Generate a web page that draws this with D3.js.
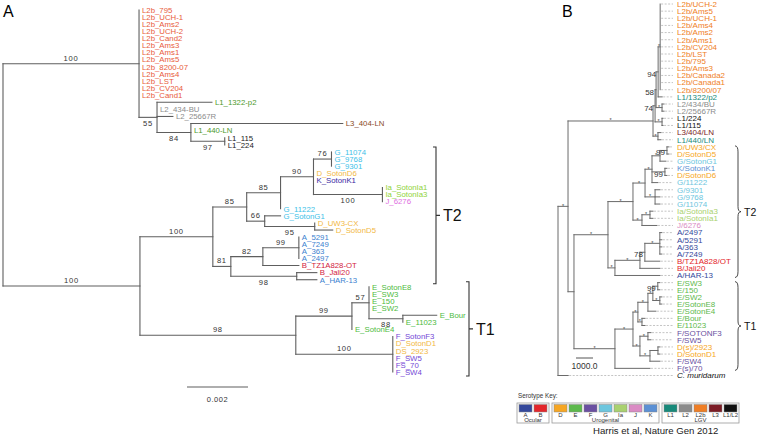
<!DOCTYPE html>
<html><head><meta charset="utf-8">
<script src="https://cdn.jsdelivr.net/npm/d3@7"></script>
<style>
body{margin:0;background:#fff}
svg{display:block}
text{font-family:"Liberation Sans",Arial,Helvetica,sans-serif}
</style>
</head><body>
<svg id="c" width="760" height="446"></svg>
<script>
// ---------------- DATA ----------------
// Panel A: [node, parent, branch length (subst/site), bootstrap support, serotype]
const treeA = [
 ["rA","",0,""],
 ["L2","rA",0.00446,"100"],
 ["L2b_795","L2",0,"","L2b"],["L2b_UCH-1","L2",0,"","L2b"],["L2b_Ams2","L2",0,"","L2b"],
 ["L2b_UCH-2","L2",0,"","L2b"],["L2b_Cand2","L2",0,"","L2b"],["L2b_Ams3","L2",0,"","L2b"],
 ["L2b_Ams1","L2",0,"","L2b"],["L2b_Ams5","L2",0,"","L2b"],["L2b_8200-07","L2",0,"","L2b"],
 ["L2b_Ams4","L2",0,"","L2b"],["L2b_LST","L2",0,"","L2b"],["L2b_CV204","L2",0,"","L2b"],
 ["L2b_Cand1","L2",0,"","L2b"],
 ["N55","L2",0.00059,"55"],
 ["L1_1322-p2","N55",0.0018,"","L1"],
 ["L2_434-BU","N55",0,"","L2"],
 ["L2_25667R","N55",0.00052,"","L2"],
 ["N84","N55",0.00111,"84"],
 ["L3_404-LN","N84",0.00498,"","L3"],
 ["L1_440-LN","N84",0,"","L1"],
 ["N97","N84",0.00111,"97"],
 ["L1_115","N97",0,"","L1L2"],["L1_224","N97",0,"","L1L2"],
 ["B1","rA",0.00449,"100"],
 ["NT2","B1",0.00239,"100"],
 ["N85a","NT2",0.00111,"85"],
 ["N85b","N85a",0.00111,"85"],
 ["N90","N85b",0.00108,"90"],
 ["N76","N90",0.00059,"76"],
 ["G_11074","N76",0,"","G"],["G_9768","N76",0,"","G"],["G_9301","N76",0,"","G"],
 ["D_SotonD6","N90",0,"","D"],["K_SotonK1","N90",0,"","K"],
 ["N100c","N90",0.00226,"100"],
 ["Ia_SotonIa1","N100c",0,"","Ia"],["Ia_SotonIa3","N100c",0,"","Ia"],["J_6276","N100c",0,"","J"],
 ["G_11222","N85b",0,"","G"],
 ["N66","N85a",0.00059,"66"],
 ["G_SotonG1","N66",0.00052,"","G"],
 ["N95","N66",0.00164,"95"],
 ["D_UW3-CX","N95",0,"","D"],["D_SotonD5","N95",0.00059,"","D"],
 ["N81","NT2",0.00059,"81"],
 ["N82","N81",0.00105,"82"],
 ["N99a","N82",0.00118,"99"],
 ["A_5291","N99a",0,"","A"],["A_7249","N99a",0,"","A"],["A_363","N99a",0,"","A"],["A_2497","N99a",0,"","A"],
 ["B_TZ1A828-OT","N82",0.00118,"","B"],
 ["N98b","N81",0.00216,"98"],
 ["B_Jali20","N98b",0.00066,"","B"],["A_HAR-13","N98b",0.00066,"","A"],
 ["T1","B1",0.00511,"98"],
 ["N99","T1",0.00184,"99"],
 ["N57","N99",0.00056,"57"],
 ["E_SotonE8","N57",0,"","E"],["E_SW3","N57",0,"","E"],["E_150","N57",0,"","E"],["E_SW2","N57",0,"","E"],
 ["N88","N57",0.00111,"88"],
 ["E_Bour","N88",0.00111,"","E"],["E_11023","N88",0,"","E"],
 ["E_SotonE4","N99",0,"","E"],
 ["NF","T1",0.00318,"100"],
 ["F_SotonF3","NF",0,"","F"],["D_SotonD1","NF",0,"","D"],["DS_2923","NF",0,"","D"],
 ["F_SW5","NF",0,"","F"],["FS_70","NF",0,"","F"],["F_SW4","NF",0,"","F"]
];
const belowA = ["N55","N84","N97","N100c","N95","N98b","N88"];
const scaleBarA = 0.002;

// Panel B: [node, parent, branch length (subst/site), support, serotype]
const treeB = [
 ["rB","",0,""],
 ["I","rB",0.000059,"*"],
 ["LGV","I",0.0005,"*"],
 ["N74","LGV",0.000012,"74"],
 ["N58","N74",0.000006,"58"],
 ["N94","N58",0.000012,"94"],
 ["L2bB","N94",0.000012,"*"],
 ["L2b/UCH-2","L2bB",0,"","L2b"],["L2b/Ams5","L2bB",0,"","L2b"],["L2b/UCH-1","L2bB",0,"","L2b"],
 ["L2b/Ams4","L2bB",0,"","L2b"],["L2b/Ams2","L2bB",0,"","L2b"],["L2b/Ams1","L2bB",0,"","L2b"],
 ["L2b/CV204","L2bB",0,"","L2b"],["L2b/LST","L2bB",0,"","L2b"],["L2b/795","L2bB",0,"","L2b"],
 ["L2b/Ams3","L2bB",0,"","L2b"],["L2b/Canada2","L2bB",0,"","L2b"],["L2b/Canada1","L2bB",0,"","L2b"],
 ["L2b/8200/07","L2bB",0,"","L2b"],
 ["L1/1322/p2","N94",0.000024,"","L1"],
 ["NL2","N58",0.000035,"*"],
 ["L2/434/BU","NL2",0.000012,"","L2"],["L2/25667R","NL2",0.000012,"","L2"],
 ["NL1","N74",0.000041,"*"],
 ["L1/224","NL1",0.000006,"","L1/L2"],["L1/115","NL1",0.000006,"","L1/L2"],
 ["NL3","LGV",0.000029,"*"],
 ["L3/404/LN","NL3",0.000018,"","L3"],["L1/440/LN","NL3",0.000018,"","L1"],
 ["U","I",0.000035,""],
 ["T2","U",0.0002,"*"],
 ["Nup","T2",0.000147,"*"],
 ["NDGK","Nup",0.000071,"*"],
 ["NDK","NDGK",0.000041,"*"],
 ["Nc","NDK",0.000047,"*"],
 ["N99a","Nc",0.000041,"99"],
 ["D/UW3/CX","N99a",0.000012,"","D"],["D/SotonD5","N99a",0.000012,"","D"],
 ["G/SotonG1","Nc",0.000035,"","G"],
 ["N99b","NDK",0.000076,"99"],
 ["K/SotonK1","N99b",0.000012,"","K"],["D/SotonD6","N99b",0.000012,"","D"],
 ["G/11222","NDK",0.000035,"","G"],
 ["NG","NDGK",0.000059,"*"],
 ["G/9301","NG",0.000029,"","G"],["G/9768","NG",0.000029,"","G"],["G/11074","NG",0.000029,"","G"],
 ["NIaJ","Nup",0.000053,"*"],
 ["NIa","NIaJ",0.000047,"*"],
 ["Ia/SotonIa3","NIa",0.000018,"","Ia"],["Ia/SotonIa1","NIa",0.000018,"","Ia"],
 ["J/6276","NIaJ",0.000088,"","J"],
 ["NAB","T2",0.000041,"*"],
 ["NABi","NAB",0.000147,"*"],
 ["N78","NABi",0.000029,"78"],
 ["NA","N78",0.000088,"*"],
 ["A/2497","NA",0.000012,"","A"],["A/5291","NA",0.000012,"","A"],["A/363","NA",0.000012,"","A"],["A/7249","NA",0.000012,"","A"],
 ["B/TZ1A828/OT","N78",0.000088,"","B"],
 ["B/Jali20","NABi",0.000118,"","B"],
 ["A/HAR-13","NAB",0.000265,"","A"],
 ["T1","U",0.000241,"*"],
 ["NT1a","T1",0.000106,"*"],
 ["NE","NT1a",0.000029,"*"],
 ["NE1","NE",0.000059,"*"],
 ["NE2","NE1",0.000029,"*"],
 ["N99c","NE2",0.000029,"99"],
 ["E/SW3","N99c",0.000012,"","E"],["E/150","N99c",0.000012,"","E"],
 ["NE3","NE2",0.000041,"*"],
 ["E/SW2","NE3",0.000012,"","E"],["E/SotonE8","NE3",0.000012,"","E"],
 ["E/SotonE4","NE1",0.000047,"","E"],
 ["NEB","NE",0.000024,"*"],
 ["E/Bour","NEB",0.000018,"","E"],["E/11023","NEB",0.000018,"","E"],
 ["NF","NT1a",0.000041,"*"],
 ["NF1","NF",0.000047,"*"],
 ["F/SOTONF3","NF1",0.000018,"","F"],["F/SW5","NF1",0.000018,"","F"],
 ["NF2","NF",0.000059,"*"],
 ["NF3","NF2",0.000047,""],
 ["D(s)/2923","NF3",0.000012,"","D"],["D/SotonD1","NF3",0.000012,"","D"],
 ["F/SW4","NF2",0.000059,"","F"],
 ["F(s)/70","T1",0.000206,"","F"],
 ["C. muridarum","rB",0.00006,"","Cm"]
];
const scaleBarB = 0.0001, scaleBarBLabel = "1000.0";

// Legend
const legendGroups = ["Ocular","Urogenital","LGV"];
const legendKeys = [["A","B"],["D","E","F","G","Ia","J","K"],["L1","L2","L2b","L3","L1/L2"]];
const cladeNames = ["T2","T1"];

// ---------------- STYLE ----------------
const colorA = {L2b:"#e85b3b",L1:"#4e9a2c",L2:"#8c8c8c",L3:"#8a4b1f",L1L2:"#222",D:"#f2b83f",E:"#4dbb3d",
  F:"#7447d6",G:"#3ebfe8",Ia:"#8fd33b",J:"#e070df",K:"#3a2aa2",A:"#3b7fd0",B:"#d3233d"};
const colorB = {A:"#34489b",B:"#e3262b",D:"#f6a623",E:"#5db94c",F:"#6a4fa1",G:"#6dc6de",Ia:"#a9d16f",
  J:"#da8bc4",K:"#5b90d4",L1:"#17897a",L2:"#8b8b8b",L2b:"#ef7e25",L3:"#7b1c25","L1/L2":"#111",Cm:"#111"};

const svg = d3.select("#c");

function build(rows){
  const root = d3.stratify().id(d=>d[0]).parentId(d=>d[1]===""?null:d[1])(rows);
  root.eachBefore(n=>{ n.dist = n.parent ? n.parent.dist + n.data[2] : 0; });
  root.leaves().forEach((l,i)=>{ l.idx = i; });
  root.eachAfter(n=>{ if(n.children) n.idx = (n.children[0].idx + n.children[n.children.length-1].idx)/2; });
  return root;
}
function drawEdges(g, root, x, y, col, w){
  const nodes = root.descendants();
  g.append("g").selectAll("line").data(nodes.filter(n=>n.parent && n.data[2]>0)).join("line")
    .attr("x1",n=>x(n.parent.dist)).attr("x2",n=>x(n.dist))
    .attr("y1",n=>y(n.idx)).attr("y2",n=>y(n.idx))
    .attr("stroke",col).attr("stroke-width",w).attr("stroke-linecap","square");
  g.append("g").selectAll("line").data(nodes.filter(n=>n.children)).join("line")
    .attr("x1",n=>x(n.dist)).attr("x2",n=>x(n.dist))
    .attr("y1",n=>y(n.children[0].idx)).attr("y2",n=>y(n.children[n.children.length-1].idx))
    .attr("stroke",col).attr("stroke-width",w).attr("stroke-linecap","square");
}
function cladeRange(root, first, last){
  const L = root.leaves();
  return [L.findIndex(l=>l.id===first), L.findIndex(l=>l.id===last)];
}

// ---------------- PANEL A ----------------
const rootA = build(treeA);
const nA = rootA.leaves().length;
const xA = d3.scaleLinear().domain([0, scaleBarA]).range([3, 64]);
const yA = d3.scaleLinear().domain([0, nA-1]).range([10, 372]);
const gA = svg.append("g");
gA.append("text").attr("x",3).attr("y",17).attr("font-size",16).text("A");
drawEdges(gA, rootA, xA, yA, "#5e5e5e", 1.1);
gA.append("g").selectAll("text").data(rootA.leaves()).join("text")
  .attr("x",n=>xA(n.dist)+3).attr("y",n=>yA(n.idx)).attr("dy","0.36em")
  .attr("font-size",7.8).attr("fill",n=>colorA[n.data[4]]).text(n=>n.data[0]);
const belowSet = new Set(belowA);
gA.append("g").selectAll("text").data(rootA.descendants().filter(n=>n.data[3])).join("text")
  .attr("x",n=>(xA(n.parent.dist)+xA(n.dist))/2)
  .attr("y",n=>yA(n.idx)+(belowSet.has(n.id)?8.5:-3))
  .attr("text-anchor","middle").attr("font-size",7.6).attr("letter-spacing",0.7).attr("fill","#333")
  .text(n=>n.data[3]);
const sbA0 = 187;
gA.append("line").attr("x1",sbA0).attr("x2",sbA0+xA(scaleBarA)-xA(0)).attr("y1",387).attr("y2",387)
  .attr("stroke","#5e5e5e").attr("stroke-width",1.1);
gA.append("text").attr("x",sbA0+(xA(scaleBarA)-xA(0))/2).attr("y",402).attr("text-anchor","middle")
  .attr("font-size",7.5).attr("letter-spacing",0.5).attr("fill","#333").text(String(scaleBarA));
const bracketsA = [
  {name:cladeNames[0], r:cladeRange(rootA,"G_11074","A_HAR-13"), x:436},
  {name:cladeNames[1], r:cladeRange(rootA,"E_SotonE8","F_SW4"), x:469}
];
bracketsA.forEach(b=>{
  const y0 = yA(b.r[0])-5, y1 = yA(b.r[1])+4, ym=(y0+y1)/2;
  gA.append("path").attr("d",`M${b.x-3},${y0}H${b.x}V${y1}H${b.x-3}M${b.x},${ym}H${b.x+4}`)
    .attr("fill","none").attr("stroke","#333").attr("stroke-width",1.1);
  gA.append("text").attr("x",b.x+7).attr("y",ym+6).attr("font-size",16).attr("fill","#111").text(b.name);
});

// ---------------- PANEL B ----------------
const rootB = build(treeB);
const nB = rootB.leaves().length;
const xB = d3.scaleLinear().domain([0, scaleBarB]).range([558, 575]);
const yB = d3.scaleLinear().domain([0, nB-1]).range([4, 375.5]);
const gB = svg.append("g");
gB.append("text").attr("x",562).attr("y",17).attr("font-size",16).text("B");
const alignB = 673;
gB.append("g").selectAll("line").data(rootB.leaves()).join("line")
  .attr("x1",n=>xB(n.dist)+1).attr("x2",alignB).attr("y1",n=>yB(n.idx)).attr("y2",n=>yB(n.idx))
  .attr("stroke","#b5b5b5").attr("stroke-width",0.8).attr("stroke-dasharray","2,1.5");
drawEdges(gB, rootB, xB, yB, "#6a6a6a", 1);
gB.append("g").selectAll("text").data(rootB.leaves()).join("text")
  .attr("x",alignB+4).attr("y",n=>yB(n.idx)).attr("dy","0.36em")
  .attr("font-size",8).attr("fill",n=>colorB[n.data[4]])
  .attr("font-style",n=>n.data[4]==="Cm"?"italic":null).text(n=>n.data[0]);
gB.append("g").selectAll("text").data(rootB.descendants().filter(n=>n.data[3]==="*")).join("text")
  .attr("x",n=>(xB(n.parent.dist)+xB(n.dist))/2).attr("y",n=>yB(n.idx)+1.5)
  .attr("text-anchor","middle").attr("font-size",5.5).attr("fill","#444").text("*");
gB.append("g").selectAll("text").data(rootB.descendants().filter(n=>n.data[3] && n.data[3]!=="*")).join("text")
  .attr("x",n=>xB(n.dist)-2).attr("y",n=>yB(n.idx)+2).attr("dy","0.36em")
  .attr("text-anchor","end").attr("font-size",8).attr("fill","#333").text(n=>n.data[3]);
const sbB0 = 576, sbBw = xB(scaleBarB)-xB(0);
gB.append("line").attr("x1",sbB0).attr("x2",sbB0+sbBw).attr("y1",358).attr("y2",358).attr("stroke","#555").attr("stroke-width",1);
gB.append("text").attr("x",sbB0+sbBw/2).attr("y",369).attr("text-anchor","middle").attr("font-size",8.5).attr("fill","#333").text(scaleBarBLabel);
function brace(x,y1,y2,w){
  const m=(y1+y2)/2;
  return `M${x},${y1} Q${x+w},${y1} ${x+w},${y1+6} L${x+w},${m-5} Q${x+w},${m} ${x+2*w},${m} Q${x+w},${m} ${x+w},${m+5} L${x+w},${y2-6} Q${x+w},${y2} ${x},${y2}`;
}
const bracketsB = [
  {name:cladeNames[0], r:cladeRange(rootB,"D/UW3/CX","A/HAR-13")},
  {name:cladeNames[1], r:cladeRange(rootB,"E/SW3","F(s)/70")}
];
bracketsB.forEach(b=>{
  const y0=yB(b.r[0])-1, y1=yB(b.r[1])+2;
  gB.append("path").attr("d",brace(735,y0,y1,3)).attr("fill","none").attr("stroke","#333").attr("stroke-width",0.9);
  gB.append("text").attr("x",744).attr("y",(y0+y1)/2+4).attr("font-size",10.5).attr("fill","#111").text(b.name);
});

// ---------------- LEGEND ----------------
const gL = svg.append("g");
gL.append("text").attr("x",518).attr("y",398).attr("font-size",6.3).attr("fill","#333").text("Serotype Key:");
let lx = 517;
const pitch=15, sw=13, pad=2;
legendKeys.forEach((keys,gi)=>{
  const bw = pad*2 + keys.length*pitch - (pitch-sw);
  gL.append("rect").attr("x",lx).attr("y",403).attr("width",bw).attr("height",20)
    .attr("fill","none").attr("stroke","#999").attr("stroke-width",0.8);
  keys.forEach((k,i)=>{
    const sx = lx+pad+i*pitch;
    gL.append("rect").attr("x",sx).attr("y",404.5).attr("width",sw).attr("height",7.5)
      .attr("fill",colorB[k]).attr("stroke","#888").attr("stroke-width",0.5);
    gL.append("text").attr("x",sx+sw/2).attr("y",417).attr("text-anchor","middle").attr("font-size",6).attr("fill","#333").text(k);
  });
  gL.append("text").attr("x",lx+bw/2).attr("y",422).attr("text-anchor","middle").attr("font-size",6).attr("fill","#333").text(legendGroups[gi]);
  lx += bw + 3;
});
gL.append("text").attr("x",593).attr("y",434).attr("font-size",9.6).attr("fill","#222").text("Harris et al, Nature Gen 2012");
</script>
</body></html>
